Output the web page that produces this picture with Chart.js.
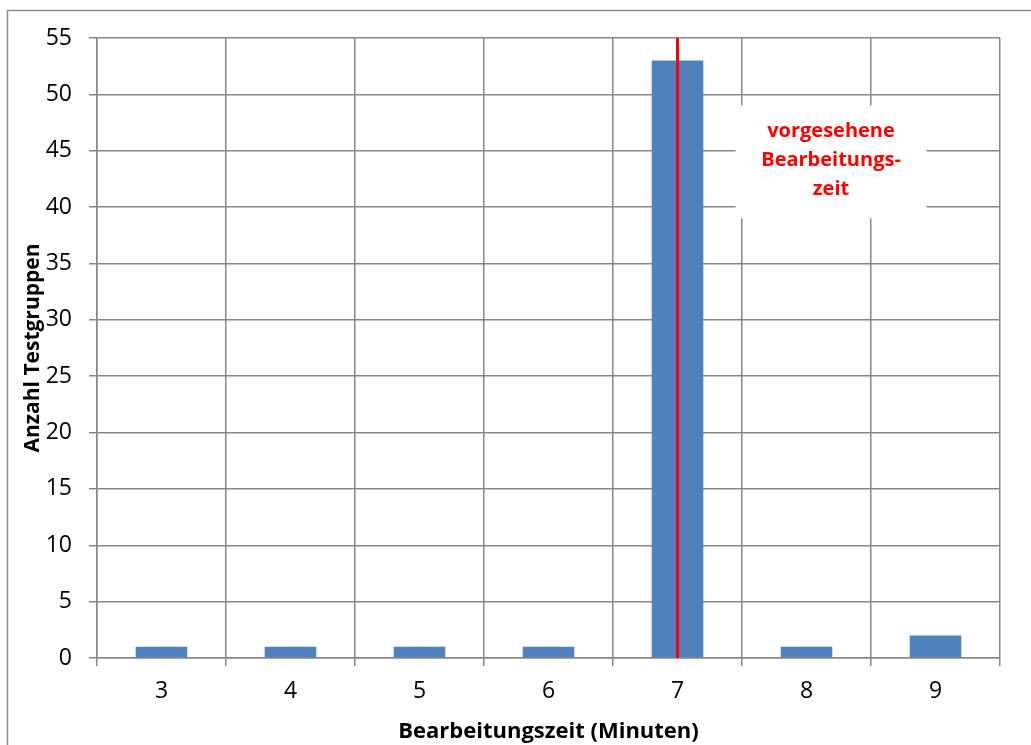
<!DOCTYPE html>
<html>
<head>
<meta charset="utf-8">
<script src="https://cdn.jsdelivr.net/npm/chart.js@4/dist/chart.umd.min.js"></script>
<style>
  html, body { margin: 0; padding: 0; background: #ffffff; }
  #wrap { width: 1031px; height: 745px; }
</style>
</head>
<body>
<div id="wrap"><canvas id="chart" width="1031" height="745"></canvas></div>
<script>
// Processing time in minutes and how many test groups needed it
const minutes = ['3', '4', '5', '6', '7', '8', '9'];
const groupCounts = [1, 1, 1, 1, 53, 1, 2];
const yAxisMax = 55;
const yAxisStep = 5;

// Planned processing time, marked with a red line and a note
const plannedMinute = '7';
const noteLines = ['vorgesehene', 'Bearbeitungs-', 'zeit'];
const noteTopValue = 49;
const noteBottomValue = 39;

const FONT = '"Open Sans", "Noto Sans", sans-serif';
const GRID = '#878787';

const framePlugin = {
  id: 'frame',
  beforeDraw(chart) {
    const ctx = chart.ctx;
    ctx.save();
    ctx.strokeStyle = '#8a8a8a';
    ctx.lineWidth = 1.5;
    ctx.strokeRect(7.5, 10.5, chart.width + 20, chart.height + 20);
    ctx.restore();
  }
};

const plannedPlugin = {
  id: 'planned',
  afterDatasetsDraw(chart) {
    const ctx = chart.ctx;
    const xs = chart.scales.x;
    const ys = chart.scales.y;
    const area = chart.chartArea;
    const idx = minutes.indexOf(plannedMinute);
    const x = xs.getPixelForValue(idx);
    const catW = xs.getPixelForValue(1) - xs.getPixelForValue(0);

    ctx.save();
    ctx.strokeStyle = '#ff0000';
    ctx.lineWidth = 3;
    ctx.beginPath();
    ctx.moveTo(x, area.top);
    ctx.lineTo(x, area.bottom);
    ctx.stroke();

    // note box to the right of the line
    const left = x + 0.45 * catW;
    const right = x + 1.93 * catW;
    const top = ys.getPixelForValue(noteTopValue);
    const bottom = ys.getPixelForValue(noteBottomValue);
    ctx.fillStyle = '#ffffff';
    ctx.fillRect(left, top, right - left, bottom - top);

    ctx.fillStyle = '#ff0000';
    ctx.font = 'bold 20px ' + FONT;
    ctx.textAlign = 'center';
    ctx.textBaseline = 'middle';
    const cx = (left + right) / 2;
    const lineH = 29;
    const cy = (top + bottom) / 2 - 2;
    noteLines.forEach((t, i) => {
      ctx.fillText(t, cx, cy + (i - (noteLines.length - 1) / 2) * lineH);
    });
    ctx.restore();
  }
};

new Chart(document.getElementById('chart'), {
  type: 'bar',
  data: {
    labels: minutes,
    datasets: [{
      data: groupCounts,
      backgroundColor: '#4f81bd',
      borderWidth: 0,
      categoryPercentage: 1,
      barPercentage: 0.4
    }]
  },
  options: {
    responsive: false,
    animation: false,
    events: [],
    layout: { padding: { top: 38, right: 31, left: 0, bottom: 0 } },
    plugins: { legend: { display: false }, tooltip: { enabled: false } },
    scales: {
      x: {
        grid: { offset: true, color: GRID, lineWidth: 1.5, tickLength: 8, drawTicks: true, tickColor: GRID },
        border: { color: GRID, width: 1.5 },
        ticks: { color: '#000', font: { family: FONT, size: 23 }, padding: 12 },
        title: {
          display: true, text: 'Bearbeitungszeit (Minuten)', color: '#000',
          font: { family: FONT, size: 22, weight: 'bold' }, padding: { top: 0, bottom: 0 }
        },
        afterFit(scale) { scale.height = 87; }
      },
      y: {
        min: 0, max: yAxisMax,
        grid: { color: GRID, lineWidth: 1.5, tickLength: 8, tickColor: GRID },
        border: { color: GRID, width: 1.5 },
        ticks: { stepSize: yAxisStep, color: '#000', font: { family: FONT, size: 23 }, padding: 17 },
        title: {
          display: true, text: 'Anzahl Testgruppen', color: '#000',
          font: { family: FONT, size: 21, weight: 'bold' }, padding: { top: 20, bottom: 0 }
        },
        afterFit(scale) { scale.width = 97; }
      }
    }
  },
  plugins: [framePlugin, plannedPlugin]
});
</script>
</body>
</html>
